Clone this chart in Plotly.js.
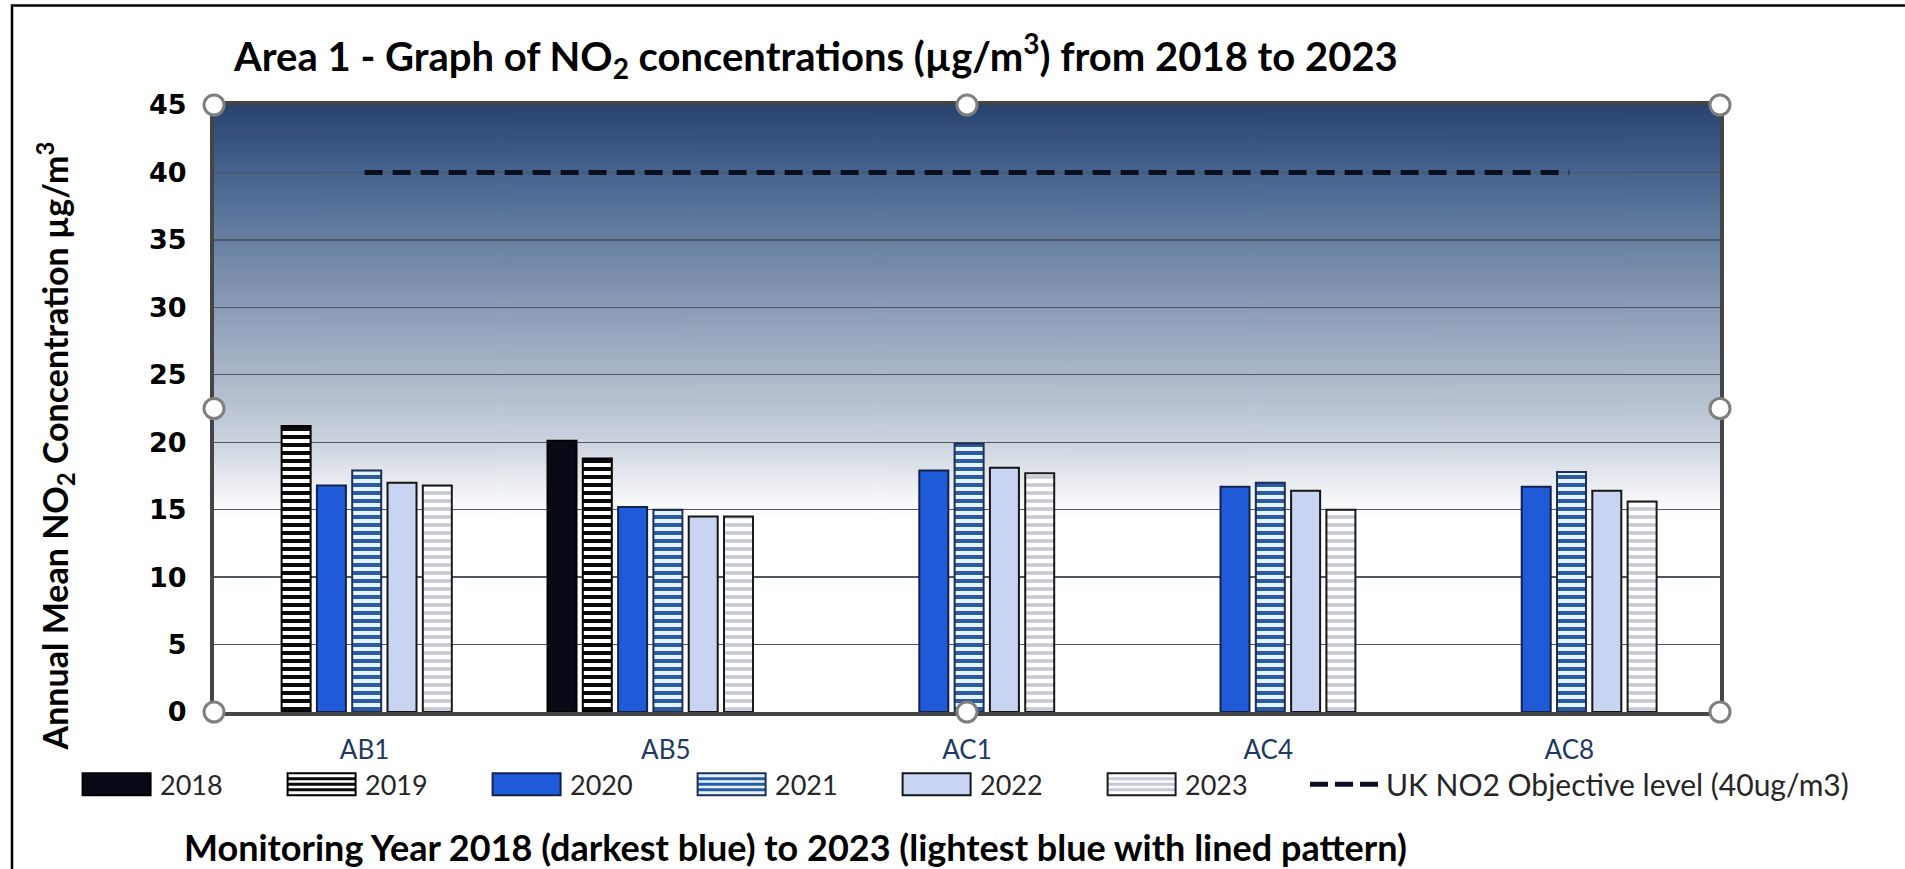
<!DOCTYPE html>
<html>
<head>
<meta charset="utf-8">
<script src="https://cdn.plot.ly/plotly-3.0.1.min.js"></script>
<style>
  html, body { margin: 0; padding: 0; background: #ffffff; }
  #chart { width: 1905px; height: 869px; }
</style>
</head>
<body>
<div id="chart"></div>
<script>
// Monitoring sites and years
const sites = ["AB1", "AB5", "AC1", "AC4", "AC8"];
const years = ["2018", "2019", "2020", "2021", "2022", "2023"];

// Annual mean NO2 (µg/m3) per site, one array per monitoring year
const no2_2018 = [null, 20.1, null, null, null];
const no2_2019 = [21.2, 18.8, null, null, null];
const no2_2020 = [16.8, 15.2, 17.9, 16.7, 16.7];
const no2_2021 = [17.9, 15.0, 19.9, 17.0, 17.8];
const no2_2022 = [17.0, 14.5, 18.1, 16.4, 16.4];
const no2_2023 = [16.8, 14.5, 17.7, 15.0, 15.6];

// UK annual mean objective for NO2
const objectiveLevel = [40, 40, 40, 40, 40];
const objectiveLabel = "UK NO2 Objective level (40ug/m3)";

const yTicks = [0, 5, 10, 15, 20, 25, 30, 35, 40, 45];

// ---- page geometry (pixels) ----
const W = 1905, H = 869;
const L = 214, R = 1720, T = 104.5, B = 711.7;
const px = x => (x - L) / (R - L);
const py = y => (B - y) / (B - T);

// ---- bar styles, one per year ----
const yearStyles = [
  { color: '#070a14', line: '#000000' },
  { color: '#ffffff', line: '#000000',
    pattern: { shape: '-', fgcolor: '#0a0a0a', bgcolor: '#ffffff', size: 8, solidity: 0.5 } },
  { color: '#1f5ad8', line: '#12224d' },
  { color: '#e3f4ff', line: '#1b2f5a',
    pattern: { shape: '-', fgcolor: '#2d5b9f', bgcolor: '#e3f4ff', size: 8, solidity: 0.5 } },
  { color: '#c8d4f2', line: '#151515' },
  { color: '#ffffff', line: '#1a1a1a',
    pattern: { shape: '-', fgcolor: '#c4cad8', bgcolor: '#ffffff', size: 8, solidity: 0.45 } }
];
const series = [no2_2018, no2_2019, no2_2020, no2_2021, no2_2022, no2_2023];

// each category holds seven bar slots; six are used
const catPx = (R - L) / sites.length;
const slot = 35.3 / catPx;
const barW = 29 / catPx;
const slotStart = -3.5 * slot + 0.007;

const traces = years.map((yr, i) => {
  const st = yearStyles[i];
  const marker = { color: st.color, line: { color: st.line, width: 2 } };
  if (st.pattern) marker.pattern = st.pattern;
  return {
    type: 'bar', name: yr, x: sites, y: series[i],
    width: barW, offset: slotStart + i * slot + (slot - barW) / 2,
    marker: marker, showlegend: false, hoverinfo: 'x+y+name'
  };
});

traces.push({
  type: 'scatter', mode: 'lines', name: objectiveLabel,
  x: sites, y: objectiveLevel,
  line: { color: '#0a0f1f', width: 5, dash: '18px,10px' },
  showlegend: false
});

// ---- gradient plot-area fill ----
function gradientURL() {
  const c = document.createElement('canvas');
  c.width = 8; c.height = 600;
  const g = c.getContext('2d');
  const grad = g.createLinearGradient(0, 0, 0, 600);
  grad.addColorStop(0.00, '#29446f');
  grad.addColorStop(0.11, '#45638d');
  grad.addColorStop(0.22, '#6780a2');
  grad.addColorStop(0.33, '#8a9bb6');
  grad.addColorStop(0.44, '#a9b6c8');
  grad.addColorStop(0.55, '#c9d1dc');
  grad.addColorStop(0.60, '#e0e5eb');
  grad.addColorStop(0.65, '#f5f7f9');
  grad.addColorStop(0.68, '#ffffff');
  grad.addColorStop(1.00, '#ffffff');
  g.fillStyle = grad;
  g.fillRect(0, 0, 8, 600);
  return c.toDataURL('image/png');
}

// ---- shapes: outer frame, legend swatches, selection handles ----
const shapes = [];

shapes.push({
  type: 'rect', xref: 'paper', yref: 'paper',
  x0: px(12), x1: px(1920), y0: py(5), y1: py(885),
  line: { color: '#000000', width: 2.5 }, fillcolor: 'rgba(0,0,0,0)', layer: 'above'
});

const annotations = [];
const legendY = 784, swH = 22, swW = 68;
const legendX0 = 82.6, legendStep = 205;
years.forEach((yr, i) => {
  const st = yearStyles[i];
  const x0 = legendX0 + i * legendStep, x1 = x0 + swW;
  const top = legendY - swH / 2, bot = legendY + swH / 2;
  shapes.push({
    type: 'rect', xref: 'paper', yref: 'paper',
    x0: px(x0), x1: px(x1), y0: py(bot), y1: py(top),
    fillcolor: st.pattern ? st.pattern.bgcolor : st.color,
    line: { width: 0 }, layer: 'above'
  });
  if (st.pattern) {
    for (let k = 1; k <= 3; k++) {
      const yy = top + k * swH / 4;
      shapes.push({
        type: 'line', xref: 'paper', yref: 'paper',
        x0: px(x0), x1: px(x1), y0: py(yy), y1: py(yy),
        line: { color: st.pattern.fgcolor, width: 3 }, layer: 'above'
      });
    }
  }
  shapes.push({
    type: 'rect', xref: 'paper', yref: 'paper',
    x0: px(x0), x1: px(x1), y0: py(bot), y1: py(top),
    fillcolor: 'rgba(0,0,0,0)', line: { color: st.line, width: 2 }, layer: 'above'
  });
  annotations.push({
    xref: 'paper', yref: 'paper', x: px(x1 + 7), y: py(legendY),
    xanchor: 'left', yanchor: 'middle', showarrow: false, text: yr,
    font: { family: 'Lato', size: 27, color: '#262626' }
  });
});

// legend entry for the objective line
const dashX0 = 1310, dashX1 = 1380;
shapes.push({
  type: 'line', xref: 'paper', yref: 'paper',
  x0: px(dashX0), x1: px(dashX1), y0: py(legendY), y1: py(legendY),
  line: { color: '#0a0f1f', width: 5, dash: '18px,7px' }, layer: 'above'
});
annotations.push({
  xref: 'paper', yref: 'paper', x: px(dashX1 + 4), y: py(legendY),
  xanchor: 'left', yanchor: 'middle', showarrow: false, text: objectiveLabel,
  font: { family: 'Lato', size: 30, color: '#262626' }
});

// axis titles
annotations.push({
  xref: 'paper', yref: 'paper', x: px(55), y: py(446),
  xanchor: 'center', yanchor: 'middle', showarrow: false, textangle: -90,
  text: '<b>Annual Mean NO<sub>2</sub> Concentration µg/m<sup>3</sup></b>',
  font: { family: 'Lato', size: 34, color: '#000000' }
});
annotations.push({
  xref: 'paper', yref: 'paper', x: px(182), y: py(847),
  xanchor: 'left', yanchor: 'middle', showarrow: false,
  text: '<b>Monitoring Year 2018 (darkest blue) to 2023 (lightest blue with lined pattern)</b>',
  font: { family: 'Lato', size: 36, color: '#000000' }
});

// chart-object selection handles
const handlePts = [
  [L, T], [(L + R) / 2, T], [R, T],
  [L, (T + B) / 2], [R, (T + B) / 2],
  [L, B], [(L + R) / 2, B], [R, B]
];
handlePts.forEach(([hx, hy]) => {
  shapes.push({
    type: 'circle', xref: 'paper', yref: 'paper',
    xsizemode: 'pixel', ysizemode: 'pixel',
    xanchor: px(hx), yanchor: py(hy),
    x0: -10, x1: 10, y0: -10, y1: 10,
    fillcolor: '#ffffff', line: { color: '#7f7f7f', width: 3 }, layer: 'above'
  });
});

const layout = {
  width: W, height: H,
  margin: { l: L, r: W - R, t: T, b: H - B, pad: 0 },
  paper_bgcolor: '#ffffff',
  plot_bgcolor: 'rgba(0,0,0,0)',
  barmode: 'overlay',
  showlegend: false,
  title: {
    text: '<b>Area 1 - Graph of NO<sub>2</sub> concentrations (µg/m<sup>3</sup>) from 2018 to 2023</b>',
    font: { family: 'Lato', size: 40, color: '#000000' },
    xref: 'container', yref: 'container',
    x: 234 / W, xanchor: 'left', y: 1 - 57 / H, yanchor: 'middle'
  },
  xaxis: {
    type: 'category', range: [-0.5, 4.5],
    showgrid: false, zeroline: false,
    showline: true, linewidth: 4, linecolor: '#454545', mirror: true,
    ticks: '', ticklabelstandoff: 12,
    tickfont: { family: 'Lato', size: 26, color: '#1f3864' },
    fixedrange: true
  },
  yaxis: {
    range: [0, 45], tickmode: 'array', tickvals: yTicks, ticktext: yTicks.map(String),
    showgrid: true, gridcolor: '#4f5564', gridwidth: 1.4,
    zeroline: false,
    showline: true, linewidth: 4, linecolor: '#454545', mirror: true,
    ticks: '', ticklabelstandoff: 18,
    tickfont: { family: 'DejaVu Sans', size: 27, color: '#000000', weight: 'bold' },
    fixedrange: true
  },
  images: [{
    source: gradientURL(), xref: 'paper', yref: 'paper',
    x: 0, y: 1, sizex: 1, sizey: 1, xanchor: 'left', yanchor: 'top',
    sizing: 'stretch', layer: 'below'
  }],
  shapes: shapes,
  annotations: annotations
};

Plotly.newPlot('chart', traces, layout, { staticPlot: true });
</script>
</body>
</html>
